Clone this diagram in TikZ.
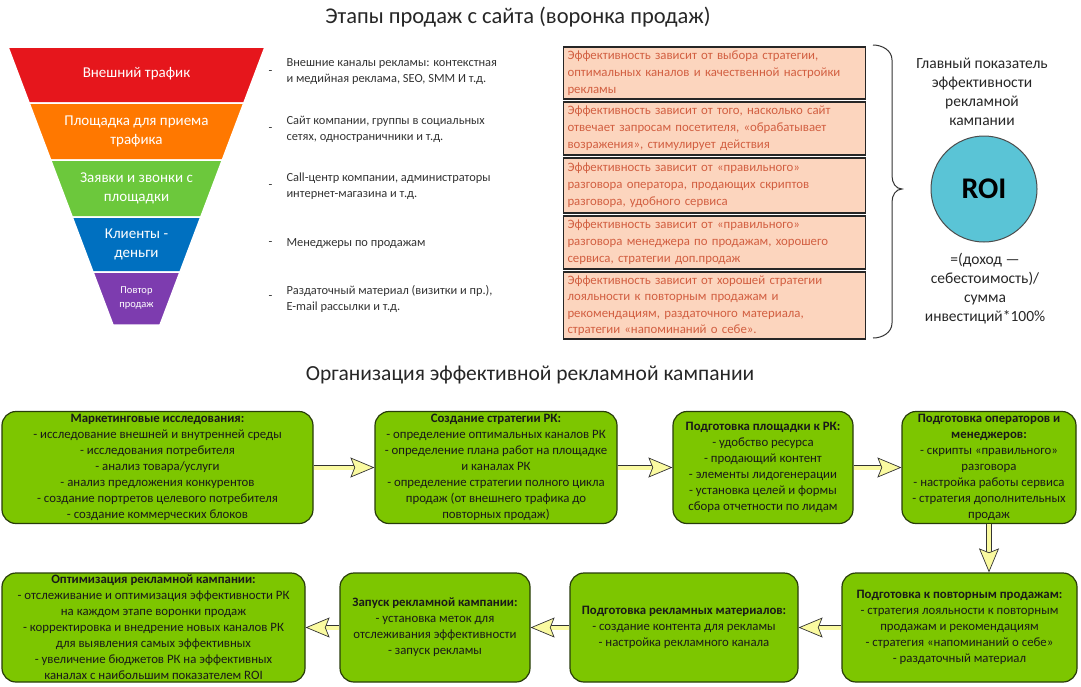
\documentclass[tikz,border=0pt]{standalone}
\usepackage{fontspec}
\setmainfont{Carlito}
\usetikzlibrary{arrows.meta,positioning}

\definecolor{funred}{RGB}{230,22,28}
\definecolor{funorange}{RGB}{255,120,0}
\definecolor{fungreen}{RGB}{108,200,60}
\definecolor{funblue}{RGB}{0,112,192}
\definecolor{funpurple}{RGB}{125,60,175}
\definecolor{peach}{RGB}{252,213,190}
\definecolor{peachtext}{RGB}{210,95,65}
\definecolor{stagegreen}{RGB}{125,198,0}
\definecolor{stageline}{RGB}{40,60,10}
\definecolor{arrowfill}{RGB}{250,250,160}
\definecolor{roiblue}{RGB}{90,196,214}

\tikzset{
  bandlabel/.style={text=white, align=center, font=\fontsize{15}{19}\selectfont},
  desc/.style={anchor=west, align=left, text=black!80, font=\fontsize{12.4}{16}\selectfont},
  effbox/.style={draw=black!85, line width=1.2pt, fill=peach, text=peachtext, align=left,
    text width=294pt, inner xsep=4pt, inner ysep=1pt, font=\fontsize{12.8}{17}\selectfont},
  stage/.style={draw=stageline, line width=1.2pt, fill=stagegreen, rounded corners=14pt,
    align=center, text=black!90, font=\fontsize{12.8}{16}\selectfont, inner sep=2pt},
  flowarrow/.style={draw=black!80, line width=0.7pt, double=arrowfill, double distance=4pt,
    -{Stealth[length=24pt, width=20pt, inset=4pt, fill=arrowfill, line width=0.7pt]}}
}

\begin{document}
\begin{tikzpicture}[x=1pt,y=-1pt]
  \useasboundingbox (0,0) rectangle (1081,686);

  % titles
  \node[font=\fontsize{22.5}{26}\selectfont, text=black!85] (title1) at (518,17) {Этапы продаж с сайта (воронка продаж)};
  \node[font=\fontsize{21.5}{26}\selectfont, text=black!85] (title2) at (530,375) {Организация эффективной рекламной кампании};

  % funnel
  \foreach \ya/\yb/\col in {47/103/funred, 103/160/funorange, 160/217/fungreen, 217/272/funblue, 272/325/funpurple}
    \filldraw[fill=\col, draw=white, line width=1.5pt]
      ({8+(\ya-47)*0.3777},\ya) -- ({265-(\ya-47)*0.3777},\ya) --
      ({265-(\yb-47)*0.3777},\yb) -- ({8+(\yb-47)*0.3777},\yb) -- cycle;

  \node[bandlabel] (band1) at (136.5,74) {Внешний трафик};
  \node[bandlabel] (band2) at (136.5,131) {Площадка для приема\\трафика};
  \node[bandlabel] (band3) at (136.5,188) {Заявки и звонки с\\площадки};
  \node[bandlabel] (band4) at (136.5,244) {Клиенты -\\деньги};
  \node[bandlabel, font=\fontsize{10.5}{14}\selectfont] (band5) at (136.5,298) {Повтор\\продаж};

  % descriptions
  \node[desc] (dash1) at (265,73) {-};
  \node[desc] (dash2) at (265,130) {-};
  \node[desc] (dash3) at (265,187) {-};
  \node[desc] (dash4) at (265,244) {-};
  \node[desc] (dash5) at (265,298) {-};
  \node[desc] (desc1) at (283,72) {Внешние каналы рекламы: контекстная\\и медийная реклама, SEO, SMM И т.д.};
  \node[desc] (desc2) at (283,129) {Сайт компании, группы в социальных\\сетях, одностраничники и т.д.};
  \node[desc] (desc3) at (283,186) {Call-центр компании, администраторы\\интернет-магазина и т.д.};
  \node[desc] (desc4) at (283,244) {Менеджеры по продажам};
  \node[desc] (desc5) at (283,299) {Раздаточный материал (визитки и пр.),\\E-mail рассылки и т.д.};

  % efficiency boxes
  \node[effbox, minimum height=52pt] (eff1) at (714.5,73) {Эффективность зависит от выбора стратегии,\\оптимальных каналов и качественной настройки\\рекламы};
  \node[effbox, minimum height=53pt] (eff2) at (714.5,128.5) {Эффективность зависит от того, насколько сайт\\отвечает запросам посетителя, «обрабатывает\\возражения», стимулирует действия};
  \node[effbox, minimum height=55pt] (eff3) at (714.5,185.5) {Эффективность зависит от «правильного»\\разговора оператора, продающих скриптов\\разговора, удобного сервиса};
  \node[effbox, minimum height=53pt] (eff4) at (714.5,242.5) {Эффективность зависит от «правильного»\\разговора менеджера по продажам, хорошего\\сервиса, стратегии доп.продаж};
  \node[effbox, minimum height=67pt, font=\fontsize{12.8}{16.5}\selectfont] (eff5) at (714.5,305.5) {Эффективность зависит от хорошей стратегии\\лояльности к повторным продажам и\\рекомендациям, раздаточного материала,\\стратегии «напоминаний о себе».};

  % brace
  \draw[black!80, line width=1pt] (873,45) to[out=0,in=90] (892,60) -- (892,176)
    to[out=-90,in=180] (902,189) to[out=180,in=90] (892,202) -- (892,323) to[out=-90,in=0] (873,338);

  % ROI
  \node[align=center, text=black!85, font=\fontsize{15.5}{19}\selectfont] (roicap) at (982,91.5) {Главный показатель\\эффективности\\рекламной\\кампании};
  \node[circle, draw=black!70, line width=1pt, fill=roiblue, minimum size=106pt,
    font=\bfseries\fontsize{30}{36}\selectfont] (roi) at (984,189) {ROI};
  \node[align=center, text=black!85, font=\fontsize{15.5}{19}\selectfont] (roiformula) at (985,288.5) {=(доход —\\себестоимость)/\\сумма\\инвестиций*100\%};

  % campaign stages
  \node[stage, minimum width=311pt, minimum height=112pt] (g1) at (157.5,467.5) {\textbf{Маркетинговые исследования:}\\- исследование внешней и внутренней среды\\- исследования потребителя\\- анализ товара/услуги\\- анализ предложения конкурентов\\- создание портретов целевого потребителя\\- создание коммерческих блоков};
  \node[stage, minimum width=242pt, minimum height=112pt] (g2) at (496,467.5) {\textbf{Создание стратегии РК:}\\- определение оптимальных каналов РК\\- определение плана работ на площадке\\и каналах РК\\- определение стратегии полного цикла\\продаж (от внешнего трафика до\\повторных продаж)};
  \node[stage, minimum width=180pt, minimum height=112pt] (g3) at (763,467.5) {\textbf{Подготовка площадки к РК:}\\- удобство ресурса\\- продающий контент\\- элементы лидогенерации\\- установка целей и формы\\сбора отчетности по лидам};
  \node[stage, minimum width=174pt, minimum height=112pt] (g4) at (989,467.5) {\textbf{Подготовка операторов и}\\\textbf{менеджеров:}\\- скрипты «правильного»\\разговора\\- настройка работы сервиса\\- стратегия дополнительных\\продаж};
  \node[stage, minimum width=235pt, minimum height=109pt] (g5) at (959.5,627.5) {\textbf{Подготовка к повторным продажам:}\\- стратегия лояльности к повторным\\продажам и рекомендациям\\- стратегия «напоминаний о себе»\\- раздаточный материал};
  \node[stage, minimum width=228pt, minimum height=109pt] (g6) at (684,627.5) {\textbf{Подготовка рекламных материалов:}\\- создание контента для рекламы\\- настройка рекламного канала};
  \node[stage, minimum width=190pt, minimum height=109pt] (g7) at (435,627.5) {\textbf{Запуск рекламной кампании:}\\- установка меток для\\отслеживания эффективности\\- запуск рекламы};
  \node[stage, minimum width=303pt, minimum height=109pt] (g8) at (153.5,627.5) {\textbf{Оптимизация рекламной кампании:}\\- отслеживание и оптимизация эффективности РК\\на каждом этапе воронки продаж\\- корректировка и внедрение новых каналов РК\\для выявления самых эффективных\\- увеличение бюджетов РК на эффективных\\каналах с наибольшим показателем ROI};

  % flow arrows
  \draw[flowarrow] (g1) -- (g2);
  \draw[flowarrow] (g2) -- (g3);
  \draw[flowarrow] (g3) -- (g4);
  \draw[flowarrow] (g4.south) -- (g4.south |- g5.north);
  \draw[flowarrow] (g5) -- (g6);
  \draw[flowarrow] (g6) -- (g7);
  \draw[flowarrow] (g7) -- (g8);
\end{tikzpicture}
\end{document}
